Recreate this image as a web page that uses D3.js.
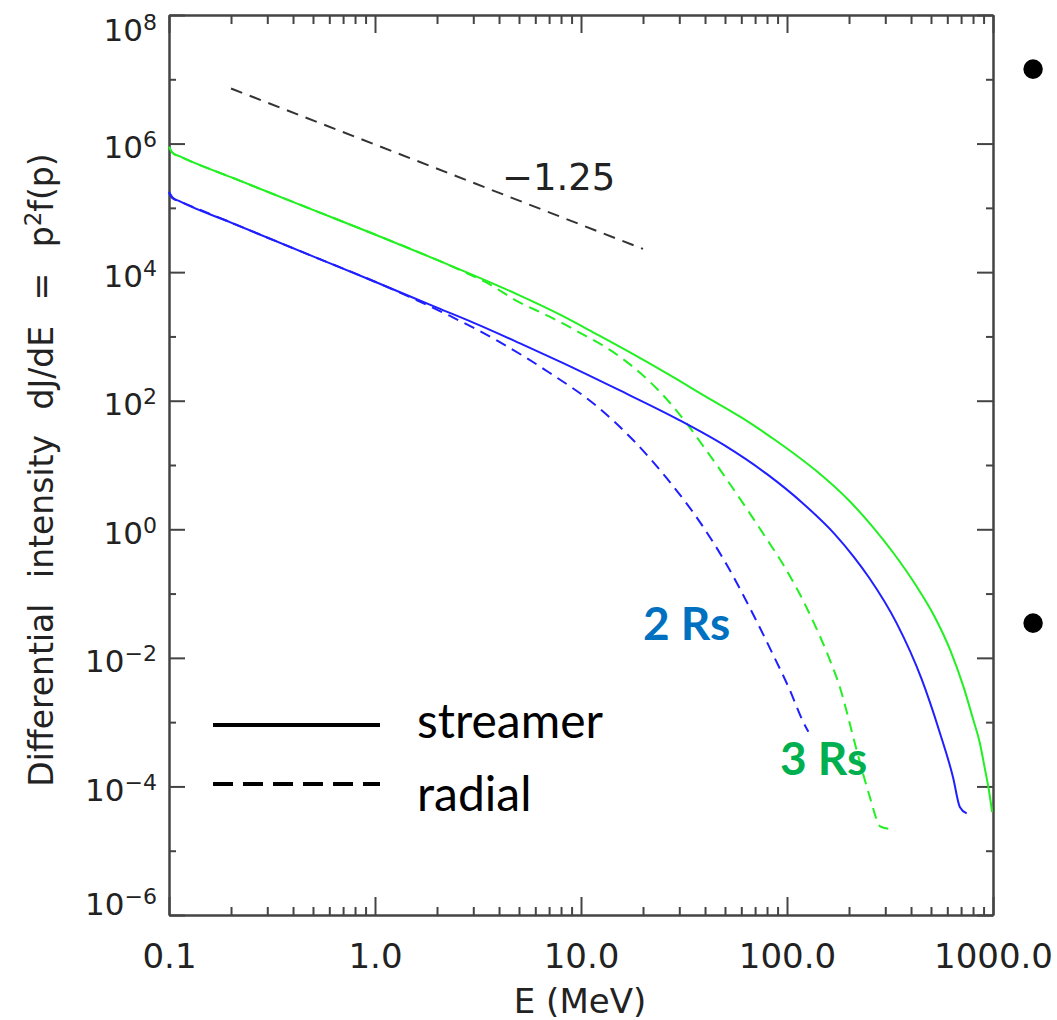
<!DOCTYPE html>
<html>
<head>
<meta charset="utf-8">
<script src="https://cdn.jsdelivr.net/npm/d3@7"></script>
<style>
  html, body { margin: 0; padding: 0; background: #fff; }
  svg { display: block; }
</style>
</head>
<body>
<svg id="chart" width="1057" height="1020"></svg>
<script>
// ---- Spectra: energy (MeV) and differential intensity dJ/dE ----
// 3 Rs, streamer field
const energy3Streamer = [0.1, 0.104, 0.113, 0.2, 0.5, 1.0, 2.0, 3.0, 5.0, 8.0, 12, 18, 27, 40, 60, 90, 140, 200, 260, 330, 420, 520, 620, 720, 800, 860, 910, 960, 990];
const flux3Streamer   = [8.9e5, 7.2e5, 6.3e5, 3.0e5, 9.3e4, 3.85e4, 1.55e4, 9.0e3, 4.4e3, 2.15e3, 1.07e3, 525, 250, 118, 55, 23, 7.9, 2.8, 1.1, 0.42, 0.138, 0.044, 0.0132, 3.5e-3, 1.12e-3, 5.0e-4, 2.0e-4, 7.9e-5, 4.0e-5];
// 3 Rs, radial field
const energy3Radial = [0.1, 0.104, 0.113, 0.2, 0.5, 1.0, 2.0, 2.6, 3.5, 4.9, 7.0, 10, 14, 18, 22, 27, 33, 40, 48, 57, 66, 80, 96, 115, 135, 160, 180, 195, 210, 235, 258, 270, 283, 310];
const flux3Radial   = [8.9e5, 7.2e5, 6.3e5, 3.0e5, 9.3e4, 3.85e4, 1.55e4, 1.07e4, 6.8e3, 3.55e3, 2.05e3, 1.12e3, 600, 330, 186, 93, 42, 18, 7.9, 3.55, 1.77, 0.695, 0.28, 0.10, 0.035, 0.010, 3.6e-3, 1.45e-3, 5.75e-4, 1.5e-4, 5.4e-5, 3.3e-5, 2.4e-5, 2.2e-5];
// 2 Rs, streamer field
const energy2Streamer = [0.1, 0.104, 0.113, 0.2, 0.5, 1.0, 2.0, 3.0, 5.0, 8.0, 15, 30, 50, 80, 120, 170, 210, 250, 340, 450, 550, 640, 690, 745];
const flux2Streamer   = [1.78e5, 1.45e5, 1.26e5, 5.9e4, 1.76e4, 7.1e3, 2.8e3, 1.64e3, 794, 398, 151, 50, 20, 7.2, 2.5, 0.85, 0.38, 0.178, 0.035, 4.7e-3, 7.1e-4, 1.38e-4, 4.8e-5, 3.8e-5];
// 2 Rs, radial field
const energy2Radial = [0.1, 0.104, 0.113, 0.2, 0.5, 1.0, 1.5, 2.3, 4.0, 7.0, 12, 18, 26, 38, 51, 66, 85, 103, 120, 127];
const flux2Radial   = [1.7e5, 1.41e5, 1.26e5, 5.9e4, 1.76e4, 7.1e3, 4.0e3, 2.1e3, 830, 275, 81, 24, 6.3, 1.26, 0.28, 0.060, 0.0117, 3.2e-3, 1.0e-3, 7.1e-4];

// Reference power law, slope -1.25
const slopeLineE = [0.2, 20];
const slopeLineJ = [7.2e6, 2.3e4];
const slopeLabel = "\u22121.25";

// Axis ticks and labels
const xMajorTicks = [0.1, 1, 10, 100, 1000];
const xTickLabels = ["0.1", "1.0", "10.0", "100.0", "1000.0"];
const yMajorTicks = [1e-6, 1e-4, 1e-2, 1, 1e2, 1e4, 1e6, 1e8];
const yTickExponents = ["\u22126", "\u22124", "\u22122", "0", "2", "4", "6", "8"];
const yMinorTicks = [1e-5, 1e-3, 1e-1, 1e1, 1e3, 1e5, 1e7];

const xTitle = "E (MeV)";
const legendLabels = ["streamer", "radial"];
const seriesLabels = ["2 Rs", "3 Rs"];

// ---- Layout ----
const plot = { left: 169, right: 993, top: 15, bottom: 915 };
const axisColor = "#444";
const textColor = "#222";
const blue = "#1f1fff";
const green = "#22f022";

const svg = d3.select("#chart");

const x = d3.scaleLog().domain([0.1, 1000]).range([plot.left, plot.right]);
const y = d3.scaleLog().domain([1e-6, 1e8]).range([plot.bottom, plot.top]);

const xMinorTicks = [];
[0.1, 1, 10, 100].forEach(d => { for (let k = 2; k <= 9; k++) xMinorTicks.push(+(d * k).toPrecision(3)); });

function styleAxis(g) {
  g.selectAll("path.domain").attr("stroke", axisColor).attr("stroke-width", 2);
  g.selectAll(".tick line").attr("stroke", axisColor).attr("stroke-width", 2);
  g.attr("font-family", "DejaVu Sans").attr("fill", null);
}

// Bottom axis: major with labels, then minors
const gBottom = svg.append("g").attr("transform", `translate(0,${plot.bottom})`)
  .call(d3.axisBottom(x).tickValues(xMajorTicks).tickSize(-18).tickSizeOuter(0)
    .tickFormat((d, i) => xTickLabels[i]));
styleAxis(gBottom);
gBottom.selectAll(".tick text")
  .attr("y", 53).attr("dy", null)
  .attr("font-size", 34).attr("fill", textColor);
svg.append("g").attr("transform", `translate(0,${plot.bottom})`)
  .call(d3.axisBottom(x).tickValues(xMinorTicks).tickSize(-8).tickSizeOuter(0).tickFormat(""))
  .call(styleAxis);

// Top axis (ticks only)
svg.append("g").attr("transform", `translate(0,${plot.top})`)
  .call(d3.axisTop(x).tickValues(xMajorTicks).tickSize(-18).tickSizeOuter(0).tickFormat(""))
  .call(styleAxis);
svg.append("g").attr("transform", `translate(0,${plot.top})`)
  .call(d3.axisTop(x).tickValues(xMinorTicks).tickSize(-9).tickSizeOuter(0).tickFormat(""))
  .call(styleAxis);

// Left axis: powers of ten
const gLeft = svg.append("g").attr("transform", `translate(${plot.left},0)`)
  .call(d3.axisLeft(y).tickValues(yMajorTicks).tickSize(-16).tickSizeOuter(0).tickFormat(""));
styleAxis(gLeft);
gLeft.selectAll(".tick text").each(function (d, i) {
  const t = d3.select(this);
  const off = d === 1e8 ? 25 : (d === 1e-6 ? -1 : 14);
  t.text(null)
    .attr("x", -12).attr("y", off).attr("dy", null)
    .attr("font-size", 31).attr("fill", textColor).attr("text-anchor", "end");
  t.append("tspan").text("10");
  t.append("tspan").attr("dy", -11).attr("font-size", 22).text(yTickExponents[i]);
});
svg.append("g").attr("transform", `translate(${plot.left},0)`)
  .call(d3.axisLeft(y).tickValues(yMinorTicks).tickSize(-7).tickSizeOuter(0).tickFormat(""))
  .call(styleAxis);

// Right axis (ticks only)
svg.append("g").attr("transform", `translate(${plot.right},0)`)
  .call(d3.axisRight(y).tickValues(yMajorTicks).tickSize(-16).tickSizeOuter(0).tickFormat(""))
  .call(styleAxis);
svg.append("g").attr("transform", `translate(${plot.right},0)`)
  .call(d3.axisRight(y).tickValues(yMinorTicks).tickSize(-7).tickSizeOuter(0).tickFormat(""))
  .call(styleAxis);

// Axis titles
svg.append("text")
  .attr("x", 580).attr("y", 1013)
  .attr("text-anchor", "middle")
  .attr("font-family", "DejaVu Sans").attr("font-size", 34).attr("fill", textColor)
  .text(xTitle);

const yTitle = svg.append("text")
  .attr("transform", "translate(53,470) rotate(-90)")
  .attr("text-anchor", "middle")
  .attr("font-family", "DejaVu Sans").attr("font-size", 33).attr("fill", textColor)
  .attr("word-spacing", 15);
yTitle.append("tspan").text("Differential intensity dJ/dE = p");
yTitle.append("tspan").attr("dy", -12).attr("font-size", 23).text("2");
yTitle.append("tspan").attr("dy", 12).text("f(p)");

// ---- Curves ----
const line = d3.line()
  .x(d => x(d[0]))
  .y(d => y(d[1]))
  .curve(d3.curveMonotoneX);

const series = [
  { e: energy3Streamer, j: flux3Streamer, color: green, dash: null },
  { e: energy3Radial,   j: flux3Radial,   color: green, dash: "11,7" },
  { e: energy2Streamer, j: flux2Streamer, color: blue,  dash: null },
  { e: energy2Radial,   j: flux2Radial,   color: blue,  dash: "11,7" }
];

svg.append("g").selectAll("path")
  .data(series)
  .join("path")
  .attr("d", s => line(d3.zip(s.e, s.j)))
  .attr("fill", "none")
  .attr("stroke", s => s.color)
  .attr("stroke-width", 2)
  .attr("stroke-dasharray", s => s.dash);

// Reference slope line
svg.append("path")
  .attr("d", d3.line().x(d => x(d[0])).y(d => y(d[1]))(d3.zip(slopeLineE, slopeLineJ)))
  .attr("fill", "none")
  .attr("stroke", "#333")
  .attr("stroke-width", 2)
  .attr("stroke-dasharray", "12,8");

svg.append("text")
  .attr("x", 502).attr("y", 190)
  .attr("font-family", "DejaVu Sans").attr("font-size", 37).attr("fill", textColor)
  .text(slopeLabel);

// ---- Legend ----
const legend = svg.append("g");
legend.append("line")
  .attr("x1", 213).attr("x2", 380).attr("y1", 725).attr("y2", 725)
  .attr("stroke", "#000").attr("stroke-width", 4);
legend.append("line")
  .attr("x1", 213).attr("x2", 380).attr("y1", 784).attr("y2", 784)
  .attr("stroke", "#000").attr("stroke-width", 4)
  .attr("stroke-dasharray", "20,10");
legend.selectAll("text")
  .data(legendLabels)
  .join("text")
  .attr("x", 417)
  .attr("y", (d, i) => i === 0 ? 738 : 811)
  .attr("font-family", "Lato").attr("font-size", 48).attr("fill", "#000")
  .text(d => d);

// Radius labels
svg.append("text")
  .attr("x", 643).attr("y", 640)
  .attr("font-family", "Lato").attr("font-weight", 700).attr("font-size", 46)
  .attr("fill", "#0070c0")
  .text(seriesLabels[0]);
svg.append("text")
  .attr("x", 780).attr("y", 775)
  .attr("font-family", "Lato").attr("font-weight", 700).attr("font-size", 46)
  .attr("fill", "#00b050")
  .text(seriesLabels[1]);

// Bullets beside the plot
svg.selectAll("text.bullet")
  .data([93, 647])
  .join("text")
  .attr("class", "bullet")
  .attr("x", 1033).attr("y", d => d)
  .attr("text-anchor", "middle")
  .attr("font-family", "Liberation Sans").attr("font-size", 72).attr("fill", "#000")
  .text("\u2022");
</script>
</body>
</html>
